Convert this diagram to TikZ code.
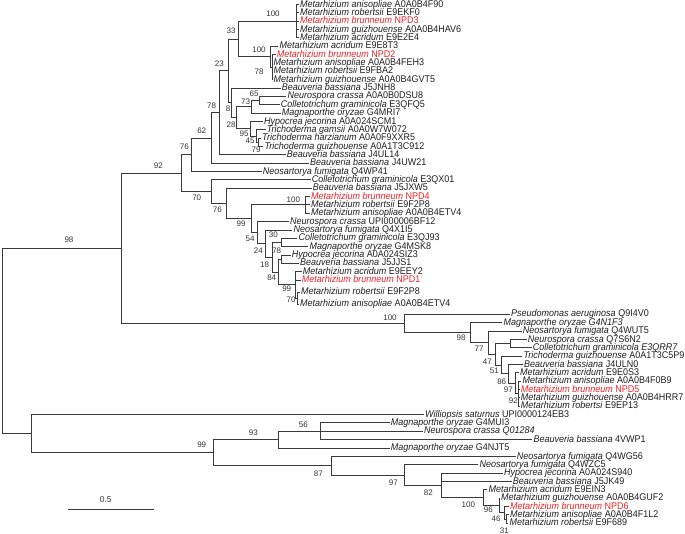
\documentclass[tikz,border=0pt]{standalone}
\usepackage{fontspec}
\usepackage{graphicx}
\setmainfont{Liberation Sans}
\definecolor{linec}{HTML}{3A3A3A}
\definecolor{txtc}{HTML}{1E1E1E}
\definecolor{bsc}{HTML}{333333}
\definecolor{npd}{RGB}{236,34,40}
\newcommand{\tleaf}[5]{\coordinate (#1) at (#2-0.9,#3); \node[leaftxt,#5] (#1t) at (#2,#3) {\scalebox{1}[1.08]{#4}};}
\begin{document}
\begin{tikzpicture}[x=1pt,y=-1pt,
  br/.style={draw=linec,line width=0.85pt},
  leaftxt/.style={anchor=mid west,inner sep=0pt,text=txtc,font=\fontsize{9}{10}\selectfont},
  red/.style={text=npd},
  bs/.style={inner sep=0pt,text=bsc,font=\fontsize{8}{9}\selectfont}]
\useasboundingbox (0,0) rectangle (685,534);
% ---------- internal nodes ----------
\coordinate (root) at (2,341);
\coordinate (N98) at (121,248.35);
\coordinate (N92) at (181,173.2);
\coordinate (N76) at (191.7,154.75);
\coordinate (N62) at (211,138);
\coordinate (N78) at (219.3,112.85);
\coordinate (N23) at (228.3,70.9);
\coordinate (N33) at (238.3,38.95);
\coordinate (N100a) at (296.7,21.2);
\coordinate (N100b) at (270,56.7);
\coordinate (N78b) at (272.5,67.1);
\coordinate (N8) at (231.7,102.9);
\coordinate (N28) at (236.7,117.75);
\coordinate (N73) at (251.7,106.8);
\coordinate (N65) at (259,100.5);
\coordinate (N95) at (250.7,128.7);
\coordinate (N45) at (256,136);
\coordinate (N79) at (258.5,142.3);
\coordinate (N70) at (211,191.7);
\coordinate (N76b) at (226,203.5);
\coordinate (N99) at (251.7,218.75);
\coordinate (N100c) at (305,204.9);
\coordinate (N54) at (257.3,232.6);
\coordinate (N24) at (265,243.6);
\coordinate (N18) at (272,257.25);
\coordinate (N30) at (281.7,242.5);
\coordinate (N84) at (278,272);
\coordinate (N78c) at (281.7,259.2);
\coordinate (N99d) at (295,284.85);
\coordinate (N70d) at (297,298);
\coordinate (N100p) at (404.3,323.5);
\coordinate (N98p) at (470.7,332.65);
\coordinate (N77) at (488.3,342.6);
\coordinate (N47) at (495.7,354.25);
\coordinate (NNC) at (510.7,343.55);
\coordinate (N51) at (501,364.95);
\coordinate (N86) at (508.3,373.8);
\coordinate (N97m) at (515.5,383.25);
\coordinate (N92m) at (518,393.7);
\coordinate (NB) at (31.7,433.65);
\coordinate (N99c) at (213.3,452.7);
\coordinate (N93) at (278.3,439.65);
\coordinate (N56) at (320.7,431.3);
\coordinate (N87) at (331,465.7);
\coordinate (N97) at (404.3,475.05);
\coordinate (N82) at (441,485.4);
\coordinate (N100d) at (483.3,497.65);
\coordinate (N96) at (499.3,505.5);
\coordinate (N46) at (504,512.8);
\coordinate (N31) at (506.5,519.1);
% ---------- leaves ----------
\tleaf{l1}{300}{4.5}{\textit{Metarhizium anisopliae} A0A0B4F90}{}
\tleaf{l2}{300}{12.85}{\textit{Metarhizium robertsii} E9EKF0}{}
\tleaf{l3}{300}{21.2}{\textit{Metarhizium brunneum} NPD3}{red}
\tleaf{l4}{300}{29.55}{\textit{Metarhizium guizhouense} A0A0B4HAV6}{}
\tleaf{l5}{300}{37.9}{\textit{Metarhizium acridum} E9E2E4}{}
\tleaf{l6}{279.3}{46.25}{\textit{Metarhizium acridum} E9E8T3}{}
\tleaf{l7}{276.7}{54.6}{\textit{Metarhizium brunneum} NPD2}{red}
\tleaf{l8}{273.3}{62.95}{\textit{Metarhizium anisopliae} A0A0B4FEH3}{}
\tleaf{l9}{273.3}{71.3}{\textit{Metarhizium robertsii} E9FBA2}{}
\tleaf{l10}{273.3}{79.65}{\textit{Metarhizium guizhouense} A0A0B4GVT5}{}
\tleaf{l11}{281.7}{88}{\textit{Beauveria bassiana} J5JNH8}{}
\tleaf{l12}{287.3}{96.35}{\textit{Neurospora crassa} A0A0B0DSU8}{}
\tleaf{l13}{280.7}{104.7}{\textit{Colletotrichum graminicola} E3QFQ5}{}
\tleaf{l14}{281.7}{113.05}{\textit{Magnaporthe oryzae} G4MRI7}{}
\tleaf{l15}{264}{121.4}{\textit{Hypocrea jecorina} A0A024SCM1}{}
\tleaf{l16}{266.7}{129.75}{\textit{Trichoderma gamsii} A0A0W7W072}{}
\tleaf{l17}{262}{138.1}{\textit{Trichoderma harzianum} A0A0F9XXR5}{}
\tleaf{l18}{264.3}{146.45}{\textit{Trichoderma guizhouense} A0A1T3C912}{}
\tleaf{l19}{286.7}{154.8}{\textit{Beauveria bassiana} J4UL14}{}
\tleaf{l20}{310}{163.15}{\textit{Beauveria bassiana} J4UW21}{}
\tleaf{l21}{262.7}{171.5}{\textit{Neosartorya fumigata} Q4WP41}{}
\tleaf{l22}{311.7}{179.85}{\textit{Colletotrichum graminicola} E3QX01}{}
\tleaf{l23}{312.7}{188.2}{\textit{Beauveria bassiana} J5JXW5}{}
\tleaf{l24}{311}{196.55}{\textit{Metarhizium brunneum} NPD4}{red}
\tleaf{l25}{311}{204.9}{\textit{Metarhizium robertsii} E9F2P8}{}
\tleaf{l26}{311}{213.25}{\textit{Metarhizium anisopliae} A0A0B4ETV4}{}
\tleaf{l27}{290}{221.6}{\textit{Neurospora crassa} UPI000006BF12}{}
\tleaf{l28}{293.3}{229.95}{\textit{Neosartorya fumigata} Q4X1I5}{}
\tleaf{l29}{298.3}{238.3}{\textit{Colletotrichum graminicola} E3QJ93}{}
\tleaf{l30}{309.3}{246.65}{\textit{Magnaporthe oryzae} G4MSK8}{}
\tleaf{l31}{291.7}{255}{\textit{Hypocrea jecorina} A0A024SIZ3}{}
\tleaf{l32}{300}{263.35}{\textit{Beauveria bassiana} J5JJS1}{}
\tleaf{l33}{302.7}{271.7}{\textit{Metarhizium acridum} E9EEY2}{}
\tleaf{l34}{301.7}{280.05}{\textit{Metarhizium brunneum} NPD1}{red}
\tleaf{l35}{301}{292}{\textit{Metarhizium robertsii} E9F2P8}{}
\tleaf{l36}{300}{304}{\textit{Metarhizium anisopliae} A0A0B4ETV4}{}
\tleaf{l37}{511}{314.3}{\textit{Pseudomonas aeruginosa} Q9I4V0}{}
\tleaf{l38}{503.3}{322.7}{\textit{Magnaporthe oryzae G4N1F3}}{}
\tleaf{l39}{522.7}{331}{\textit{Neosartorya fumigata} Q4WUT5}{}
\tleaf{l40}{527.7}{339.4}{\textit{Neurospora crassa} Q7S6N2}{}
\tleaf{l41}{532.7}{347.7}{\textit{Colletotrichum graminicola E3QRR7}}{}
\tleaf{l42}{523.3}{356.1}{\textit{Trichoderma guizhouense} A0A1T3C5P9}{}
\tleaf{l43}{524}{364.4}{\textit{Beauveria bassiana} J4ULN0}{}
\tleaf{l44}{520}{372.8}{\textit{Metarhizium acridum} E9E0S3}{}
\tleaf{l45}{522.3}{381.2}{\textit{Metarhizium anisopliae} A0A0B4F0B9}{}
\tleaf{l46}{520.7}{389.5}{\textit{Metarhizium brunneum} NPD5}{red}
\tleaf{l47}{520.7}{397.9}{\textit{Metarhizium guizhouense} A0A0B4HRR7}{}
\tleaf{l48}{520.7}{406.2}{\textit{Metarhizium robertsi} E9EP13}{}
\tleaf{l49}{425}{414.6}{\textit{Williopsis saturnus} UPI0000124EB3}{}
\tleaf{l50}{390.7}{422.9}{\textit{Magnaporthe oryzae} G4MUI3}{}
\tleaf{l51}{424}{431.3}{\textit{Neurospora crassa Q01284}}{}
\tleaf{l52}{533.3}{439.7}{\textit{Beauveria bassiana} 4VWP1}{}
\tleaf{l53}{390.7}{448}{\textit{Magnaporthe oryzae} G4NJT5}{}
\tleaf{l54}{516.7}{456.4}{\textit{Neosartorya fumigata} Q4WG56}{}
\tleaf{l55}{479.3}{464.7}{\textit{Neosartorya fumigata} Q4WZC5}{}
\tleaf{l56}{504}{473.1}{\textit{Hypocrea jecorina} A0A024S940}{}
\tleaf{l57}{512.7}{481.4}{\textit{Beauveria bassiana} J5JK49}{}
\tleaf{l58}{488.3}{489.8}{\textit{Metarhizium acridum} E9EIN3}{}
\tleaf{l59}{501}{498.2}{\textit{Metarhizium guizhouense} A0A0B4GUF2}{}
\tleaf{l60}{510}{506.5}{\textit{Metarhizium brunneum} NPD6}{red}
\tleaf{l61}{510}{514.9}{\textit{Metarhizium anisopliae} A0A0B4F1L2}{}
\tleaf{l62}{509.3}{523.3}{\textit{Metarhizium robertsii} E9F689}{}
% ---------- branches ----------
\foreach \p/\c in {N100a/l1,N100a/l2,N100a/l3,N100a/l4,N100a/l5,
  N78b/l7,N78b/l8,N78b/l9,N78b/l10,N100b/l6,N100b/N78b,N33/N100a,N33/N100b,
  N65/l12,N65/l13,N73/N65,N73/l14,N79/l17,N79/l18,N45/l16,N45/N79,N95/l15,N95/N45,
  N28/N73,N28/N95,N8/l11,N8/N28,N23/N33,N23/N8,N78/N23,N78/l19,N62/N78,N62/l20,
  N76/N62,N76/l21,N100c/l24,N100c/l25,N100c/l26,N30/l29,N30/l30,N78c/l31,N78c/l32,
  N70d/l35,N70d/l36,N99d/l33,N99d/l34,N99d/N70d,N84/N78c,N84/N99d,N18/N30,N18/N84,
  N24/l28,N24/N18,N54/l27,N54/N24,N99/N100c,N99/N54,N76b/l23,N76b/N99,N70/l22,N70/N76b,
  N92/N76,N92/N70,N92m/l45,N92m/l46,N92m/l47,N92m/l48,N97m/l44,N97m/N92m,N86/l43,N86/N97m,
  N51/l42,N51/N86,NNC/l40,NNC/l41,N47/NNC,N47/N51,N77/l39,N77/N47,N98p/l38,N98p/N77,
  N100p/l37,N100p/N98p,N98/N92,N98/N100p,N56/l50,N56/l51,N56/l52,N93/N56,N93/l53,
  N31/l61,N31/l62,N46/l60,N46/N31,N96/l59,N96/N46,N100d/l58,N100d/N96,
  N82/l56,N82/l57,N82/N100d,N97/l55,N97/N82,N87/l54,N87/N97,N99c/N93,N99c/N87,
  NB/l49,NB/N99c,root/N98,root/NB}
  \draw[br] (\p) |- (\c);
% ---------- bootstrap values ----------
\node[bs] (b1) at (273,14) {100};
\node[bs] (b2) at (231,31) {33};
\node[bs] (b3) at (259,50) {100};
\node[bs] (b4) at (259,71.7) {78};
\node[bs] (b5) at (219.3,63.3) {23};
\node[bs] (b6) at (211.5,106) {78};
\node[bs] (b7) at (228,108.5) {8};
\node[bs] (b8) at (254,93.5) {65};
\node[bs] (b9) at (245.5,102) {73};
\node[bs] (b10) at (231,124.5) {28};
\node[bs] (b11) at (244,134) {95};
\node[bs] (b12) at (250,141) {45};
\node[bs] (b13) at (256,150) {79};
\node[bs] (b14) at (201.7,130.7) {62};
\node[bs] (b15) at (184.3,146.7) {76};
\node[bs] (b16) at (158.3,165.5) {92};
\node[bs] (b17) at (196.7,197.3) {70};
\node[bs] (b18) at (217.3,210) {76};
\node[bs] (b19) at (241,224) {99};
\node[bs] (b20) at (293.3,200) {100};
\node[bs] (b21) at (250,239) {54};
\node[bs] (b22) at (258.3,251) {24};
\node[bs] (b23) at (273.3,235) {30};
\node[bs] (b24) at (276.7,251) {78};
\node[bs] (b25) at (264.5,265) {18};
\node[bs] (b26) at (271.7,277.5) {84};
\node[bs] (b27) at (286.7,289) {99};
\node[bs] (b28) at (291,300) {70};
\node[bs] (b29) at (69,240) {98};
\node[bs] (b30) at (390,317.3) {100};
\node[bs] (b31) at (461,337.3) {98};
\node[bs] (b32) at (479,348.3) {77};
\node[bs] (b33) at (487.3,361.7) {47};
\node[bs] (b34) at (494.3,371) {51};
\node[bs] (b35) at (501.7,381.7) {86};
\node[bs] (b36) at (508.3,390) {97};
\node[bs] (b37) at (513.3,400.7) {92};
\node[bs] (b38) at (201.7,445) {99};
\node[bs] (b39) at (253.3,432.7) {93};
\node[bs] (b40) at (303.3,425) {56};
\node[bs] (b41) at (318.3,473.3) {87};
\node[bs] (b42) at (393.3,482.7) {97};
\node[bs] (b43) at (428.3,492.7) {82};
\node[bs] (b44) at (468.3,504.3) {100};
\node[bs] (b45) at (488.3,510) {96};
\node[bs] (b46) at (496,518.3) {46};
\node[bs] (b47) at (504.3,531) {31};
% ---------- scale bar ----------
\coordinate (sb1) at (68.3,509.3);
\coordinate (sb2) at (154.3,509.3);
\draw[br,line width=1.1pt] (sb1) -- (sb2);
\node[bs,font=\fontsize{8.5}{9}\selectfont] (sbl) at (105.7,499.3) {0.5};
\end{tikzpicture}
\end{document}
